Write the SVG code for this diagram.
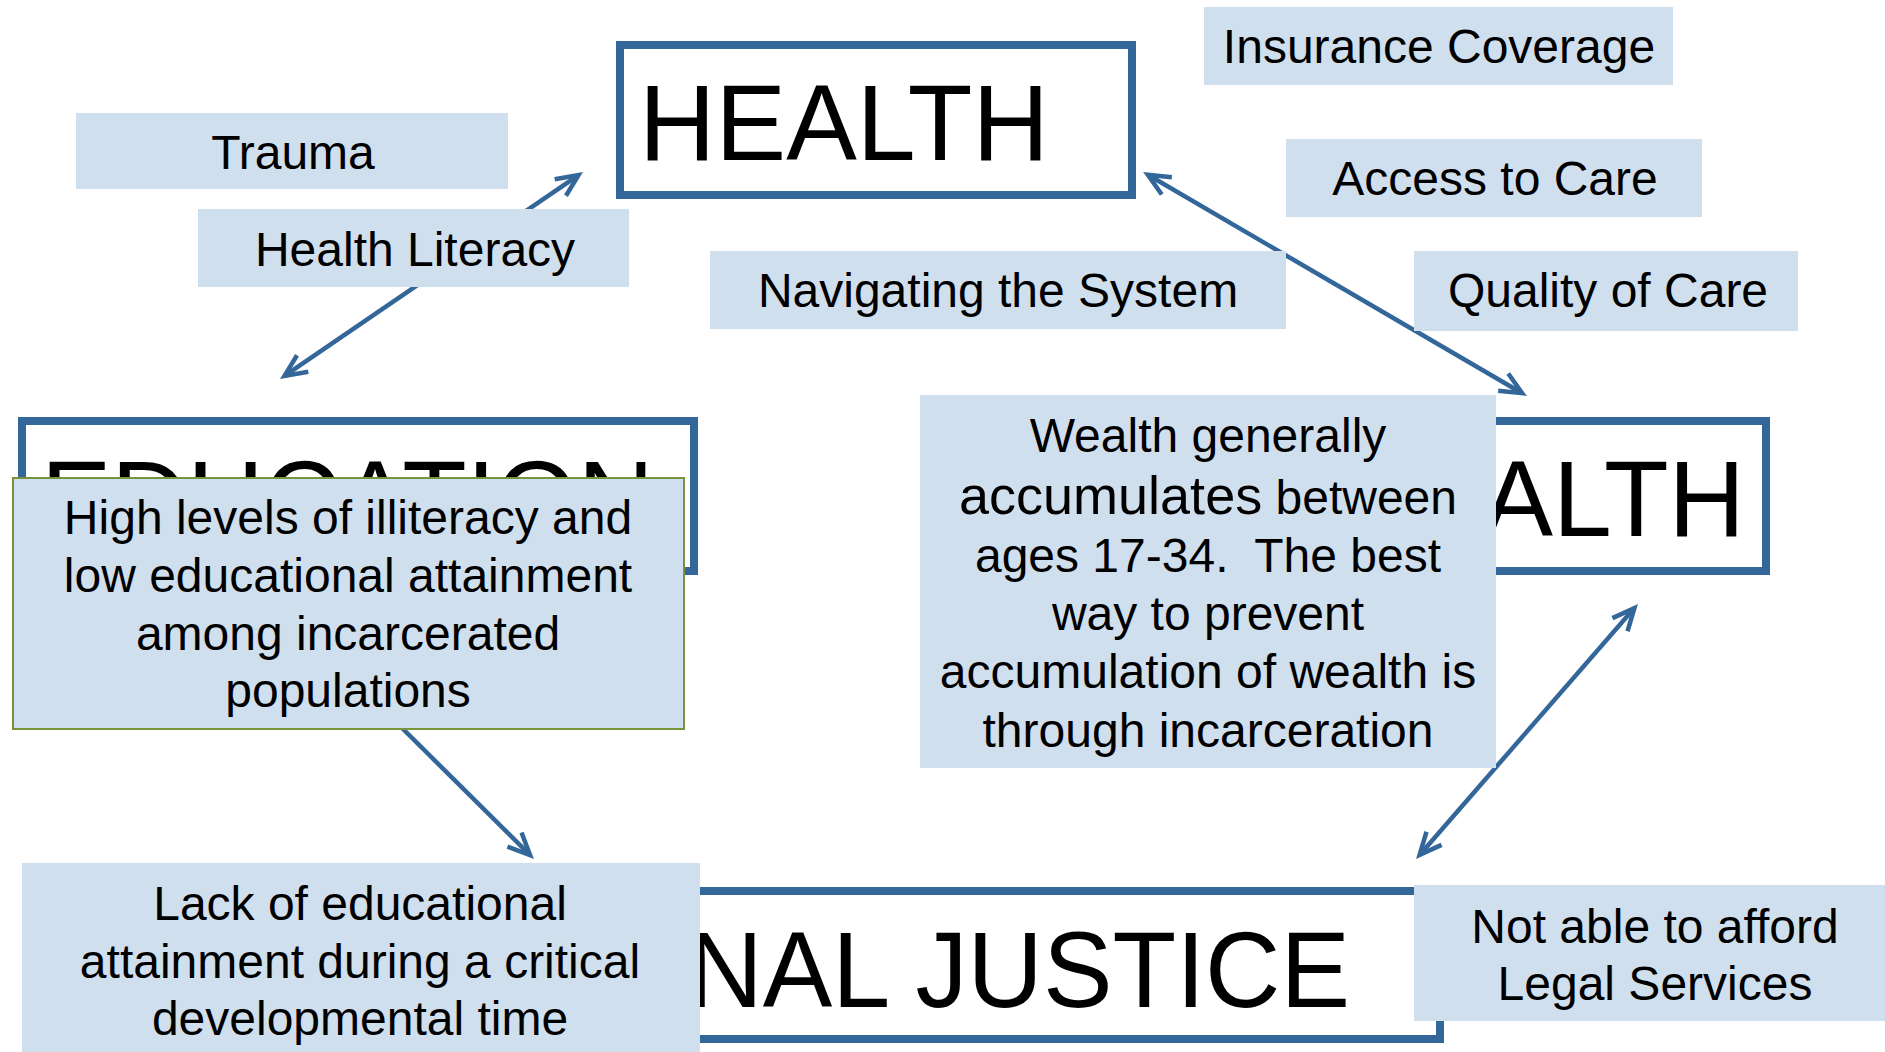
<svg xmlns="http://www.w3.org/2000/svg" width="1885" height="1052" viewBox="0 0 1885 1052">
  <style>
    text { font-family: "Liberation Sans", Arial, sans-serif; fill: #000; }
    .lbl { font-size: 48px; text-anchor: middle; }
    .big { font-size: 108px; }
    .main { fill: #ffffff; stroke: #336699; stroke-width: 8; }
    .note { fill: #D0DFEE; stroke: none; }
    .note-green { fill: #D0DFEE; stroke: #77933C; stroke-width: 2; }
    .link { fill: none; stroke: #336699; stroke-width: 4.5; }
  </style>
  <defs>
    <marker id="chev" markerUnits="userSpaceOnUse" viewBox="-30 -16 36 32" markerWidth="36" markerHeight="32" refX="0" refY="0" orient="auto-start-reverse" overflow="visible">
      <path d="M-22,-10 L0,0 L-22,10" fill="none" stroke="#336699" stroke-width="4.5" stroke-linejoin="miter"/>
    </marker>
  </defs>

  <rect width="1885" height="1052" fill="#ffffff"/>

  <!-- connectors -->
  <g id="connectors">
    <line class="link" x1="284.5" y1="375.9" x2="578.5" y2="175.1" marker-start="url(#chev)" marker-end="url(#chev)"/>
    <line class="link" x1="1147.8" y1="174.8" x2="1522.2" y2="393.2" marker-start="url(#chev)" marker-end="url(#chev)"/>
    <line class="link" x1="1634.4" y1="608.1" x2="1419.6" y2="854.9" marker-start="url(#chev)" marker-end="url(#chev)"/>
    <line class="link" x1="398" y1="724" x2="530.1" y2="855.1" marker-end="url(#chev)"/>
  </g>

  <!-- main topic boxes -->
  <g id="health">
    <rect class="main" x="620" y="45" width="512" height="150"/>
    <text class="big" x="639" y="160" textLength="410" lengthAdjust="spacingAndGlyphs">HEALTH</text>
  </g>
  <g id="education">
    <rect class="main" x="22" y="421" width="672" height="150"/>
    <text class="big" x="41" y="536" textLength="613" lengthAdjust="spacingAndGlyphs">EDUCATION</text>
  </g>
  <g id="wealth">
    <rect class="main" x="1270" y="421" width="496" height="150"/>
    <text class="big" x="1745" y="536" text-anchor="end" textLength="433" lengthAdjust="spacingAndGlyphs">WEALTH</text>
  </g>
  <g id="criminal-justice">
    <rect class="main" x="380" y="891" width="1060" height="148"/>
    <text class="big" x="1350" y="1007" text-anchor="end" textLength="958" lengthAdjust="spacingAndGlyphs">CRIMINAL JUSTICE</text>
  </g>

  <!-- factor labels -->
  <g id="trauma">
    <rect class="note" x="76" y="113" width="432" height="76"/>
    <text class="lbl" x="293" y="169">Trauma</text>
  </g>
  <g id="health-literacy">
    <rect class="note" x="198" y="209" width="431" height="78"/>
    <text class="lbl" x="415" y="266">Health Literacy</text>
  </g>
  <g id="insurance-coverage">
    <rect class="note" x="1204" y="7" width="469" height="78"/>
    <text class="lbl" x="1439" y="63">Insurance Coverage</text>
  </g>
  <g id="access-to-care">
    <rect class="note" x="1286" y="139" width="416" height="78"/>
    <text class="lbl" x="1495" y="195">Access to Care</text>
  </g>
  <g id="navigating-system">
    <rect class="note" x="710" y="251" width="576" height="78"/>
    <text class="lbl" x="998" y="307">Navigating the System</text>
  </g>
  <g id="quality-of-care">
    <rect class="note" x="1414" y="251" width="384" height="80"/>
    <text class="lbl" x="1608" y="307">Quality of Care</text>
  </g>
  <g id="illiteracy">
    <rect class="note-green" x="13" y="478" width="671" height="251"/>
    <text class="lbl" x="348" y="534">High levels of illiteracy and</text>
    <text class="lbl" x="348" y="592">low educational attainment</text>
    <text class="lbl" x="348" y="650">among incarcerated</text>
    <text class="lbl" x="348" y="707">populations</text>
  </g>
  <g id="wealth-note">
    <rect class="note" x="920" y="395" width="576" height="373"/>
    <text class="lbl" x="1208" y="452">Wealth generally</text>
    <text class="lbl" x="1208" y="514"><tspan font-size="54">accumulates</tspan> between</text>
    <text class="lbl" x="1208" y="572" style="white-space:pre">ages 17-34.  The best</text>
    <text class="lbl" x="1208" y="630">way to prevent</text>
    <text class="lbl" x="1208" y="688">accumulation of wealth is</text>
    <text class="lbl" x="1208" y="747">through incarceration</text>
  </g>
  <g id="lack-of-education">
    <rect class="note" x="22" y="863" width="678" height="200"/>
    <text class="lbl" x="360" y="920">Lack of educational</text>
    <text class="lbl" x="360" y="978">attainment during a critical</text>
    <text class="lbl" x="360" y="1035">developmental time</text>
  </g>
  <g id="legal-services">
    <rect class="note" x="1414" y="885" width="482" height="136"/>
    <text class="lbl" x="1655" y="943">Not able to afford</text>
    <text class="lbl" x="1655" y="1000">Legal Services</text>
  </g>
</svg>
